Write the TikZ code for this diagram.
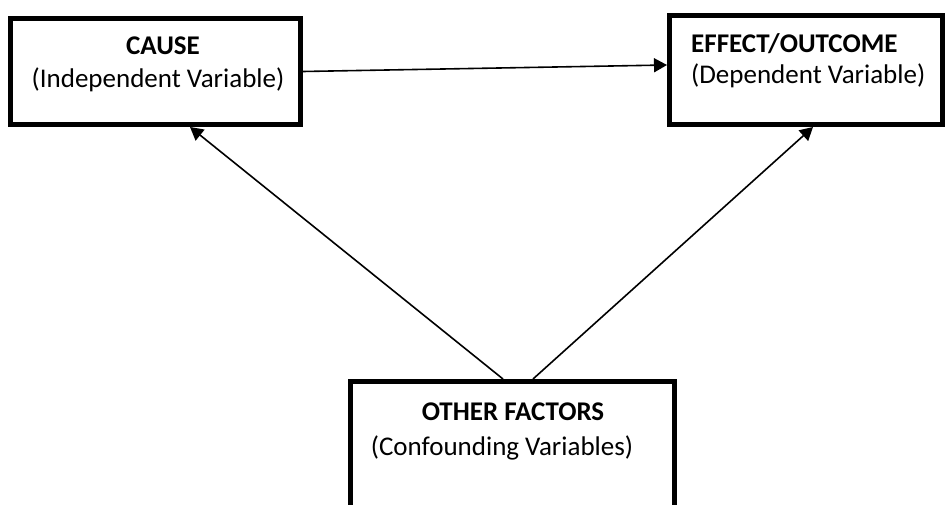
\documentclass[tikz,border=0pt]{standalone}
\usepackage{fontspec}
\setmainfont{Carlito}
\usetikzlibrary{arrows.meta}
\begin{document}
\begin{tikzpicture}[x=1pt,y=-1pt,
  varbox/.style={draw=black,line width=5pt,fill=white,inner sep=0pt},
  title/.style={font=\fontsize{27}{32}\selectfont\bfseries,inner sep=0pt,anchor=base},
  sub/.style={font=\fontsize{27}{32}\selectfont,inner sep=0pt,anchor=base},
  link/.style={line width=1.6pt,-{Triangle[length=13pt,width=14pt]}}]
\clip (0,0) rectangle (952,505);
\fill[white] (0,0) rectangle (952,505);
% the three variable boxes
\node[varbox,minimum width=290pt,minimum height=106pt] (cause) at (155.5,71.5) {};
\node[varbox,minimum width=273pt,minimum height=109pt] (effect) at (806,70) {};
\node[varbox,minimum width=324pt,minimum height=160pt] (other) at (512.5,461.5) {};
% box texts
\node[title] (causeT) at (163,55) {CAUSE};
\node[sub] (causeS) at (158,88) {(Independent Variable)};
\node[title,anchor=base west] (effectT) at (691,53) {EFFECT/OUTCOME};
\node[sub,anchor=base west] (effectS) at (691,84) {(Dependent Variable)};
\node[title] (otherT) at (513,420) {OTHER FACTORS};
\node[sub] (otherS) at (502,455) {(Confounding Variables)};
% causal links
\draw[link] (cause.east) -- ([yshift=5pt]effect.west);
\draw[link] ([xshift=-9.5pt]other.north) -- ([xshift=34.5pt]cause.south);
\draw[link] ([xshift=20.5pt]other.north) -- ([xshift=7pt]effect.south);
\end{tikzpicture}
\end{document}
